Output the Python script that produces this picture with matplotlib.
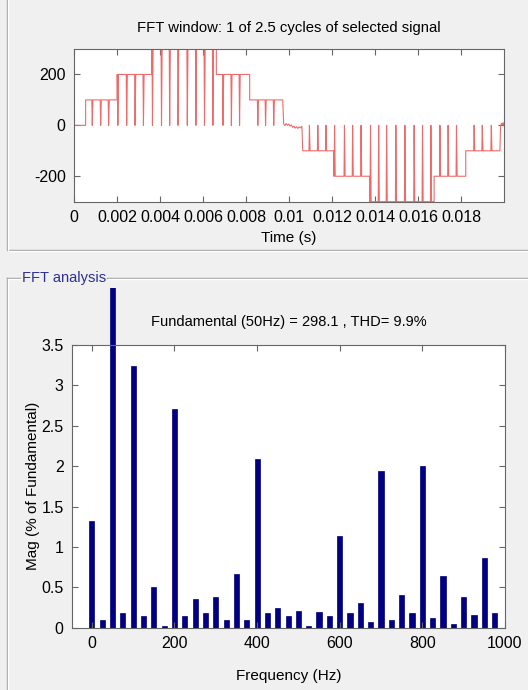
import matplotlib.pyplot as plt
from matplotlib.lines import Line2D
from matplotlib.transforms import Bbox, TransformedBbox

plt.rcParams['font.family'] = ['Liberation Sans', 'DejaVu Sans']
plt.rcParams['font.size'] = 10.5
plt.rcParams['axes.unicode_minus'] = False

# --- time signal: plateaus of the multilevel output, with the zero dips read per plateau
plateau_level = [0, 100, 200, 300, 200, 100, -100, -200, -300, -200, -100]
plateau_start = [0.0, 0.00054, 0.00200, 0.00361, 0.00662, 0.00817,
                 0.01064, 0.01208, 0.01375, 0.01675, 0.01822]
plateau_end = [0.00054, 0.00200, 0.00361, 0.00662, 0.00817, 0.00971,
               0.01208, 0.01375, 0.01675, 0.01822, 0.01981]
plateau_dips = [
    [],
    [0.00085, 0.00124, 0.00161],
    [0.00204, 0.00245, 0.00284, 0.00323],
    [0.00365, 0.00407, 0.00445, 0.00484, 0.00527, 0.00567, 0.00607, 0.00646],
    [0.00693, 0.00732, 0.00770],
    [0.00855, 0.00891, 0.00929],
    [0.01095, 0.01134, 0.01172],
    [0.01212, 0.01258, 0.01296, 0.01335],
    [0.01379, 0.01417, 0.01454, 0.01497, 0.01539, 0.01582, 0.01621, 0.01660],
    [0.01702, 0.01740, 0.01779],
    [0.01861, 0.01899, 0.01941],
]
# small ripple around zero between the half cycles and at the end
ripple1_t = [0.00975, 0.00981, 0.00987, 0.00993, 0.00999, 0.01005, 0.01011,
             0.01017, 0.01023, 0.01029, 0.01035, 0.01041, 0.01047, 0.01053, 0.01060]
ripple1_v = [6, -1, 7, 0, 5, -3, 2, -8, -3, -11, -5, -12, -6, -10, -4]
ripple2_t = [0.01984, 0.01988, 0.01992, 0.01995, 0.01998, 0.02]
ripple2_v = [-4, 8, 0, 10, 3, 9]

# --- spectrum (% of fundamental), 25 Hz resolution
freq = [0, 25, 50, 75, 100, 125, 150, 175, 200, 225, 250, 275, 300, 325, 350,
        375, 400, 425, 450, 475, 500, 525, 550, 575, 600, 625, 650, 675, 700,
        725, 750, 775, 800, 825, 850, 875, 900, 925, 950, 975]
mag = [1.32, 0.09, 100.0, 0.18, 3.24, 0.14, 0.50, 0.02, 2.71, 0.14, 0.36, 0.18,
       0.375, 0.09, 0.665, 0.09, 2.09, 0.18, 0.24, 0.14, 0.21, 0.02, 0.19, 0.14,
       1.13, 0.18, 0.30, 0.075, 1.94, 0.10, 0.40, 0.18, 2.00, 0.12, 0.64, 0.04,
       0.375, 0.16, 0.86, 0.18]

time_ticks = [0, 0.002, 0.004, 0.006, 0.008, 0.01, 0.012, 0.014, 0.016, 0.018]
time_labels = ['0', '0.002', '0.004', '0.006', '0.008', '0.01', '0.012',
               '0.014', '0.016', '0.018']
sig_ticks = [-200, 0, 200]
mag_ticks = [0, 0.5, 1, 1.5, 2, 2.5, 3, 3.5]
mag_labels = ['0', '0.5', '1', '1.5', '2', '2.5', '3', '3.5']
freq_ticks = [0, 200, 400, 600, 800, 1000]

W, H = 528, 690
fig = plt.figure(figsize=(W / 100, H / 100), dpi=100)
fig.patch.set_facecolor('#f0f0f0')


def fx(px):
    return px / W


def fy(py):
    return 1 - py / H


# etched panel borders
def etched(xs, ys):
    for dx, col in ((0, '#a0a0a0'), (1, '#ffffff')):
        fig.add_artist(Line2D([fx(x + dx) for x in xs], [fy(y + dx) for y in ys],
                              color=col, lw=1.0, transform=fig.transFigure))


etched([7, 7, 528], [-5, 250, 250])
etched([7, 7], [278, 695])
etched([7, 20], [278, 278])
etched([107, 528], [278, 278])
fig.text(fx(22), fy(278), 'FFT analysis', color='#2d2d9a', fontsize=10.5,
         va='center', ha='left')


def style(ax):
    ax.set_facecolor('white')
    for s in ax.spines.values():
        s.set_color('#666666')
        s.set_linewidth(0.8)
    ax.tick_params(direction='in', length=4, width=0.8, color='#666666',
                   top=True, right=True, labelsize=11.5, pad=6)


# --- top: signal window
ax1 = fig.add_axes([fx(74), fy(201.7), fx(504 - 74), (201.7 - 49) / H])
ts, vs = [], []
for lvl, t0, t1, dips in zip(plateau_level, plateau_start, plateau_end, plateau_dips):
    ts.append(t0)
    vs.append(lvl)
    for d in dips:
        ts += [d - 0.00002, d, d + 0.00003]
        vs += [lvl, 0, lvl]
    ts.append(t1)
    vs.append(lvl)
    if t1 == plateau_end[5]:
        ts += ripple1_t
        vs += ripple1_v
ts += ripple2_t
vs += ripple2_v
ax1.plot(ts, vs, color='#f06a6a', lw=0.8)
ax1.set_xlim(0, 0.02)
ax1.set_ylim(-300, 300)
ax1.set_xticks(time_ticks)
ax1.set_xticklabels(time_labels)
ax1.set_yticks(sig_ticks)
style(ax1)
ax1.set_title('FFT window: 1 of 2.5 cycles of selected signal', fontsize=10.7, pad=12)
ax1.set_xlabel('Time (s)', fontsize=11, labelpad=4)

# --- bottom: harmonic spectrum
ax2 = fig.add_axes([fx(72), fy(627.7), fx(505 - 72), (627.7 - 345) / H])
bars = ax2.bar(freq, mag, width=12.5, color='#000080', edgecolor='#000080', lw=0.5)
# the fundamental runs off the top of the axes, up to the panel border
clip = TransformedBbox(Bbox([[0, 0], [1, fy(288)]]), fig.transFigure)
for b in bars:
    b.set_clip_box(clip)
ax2.set_xlim(-48, 1000)
ax2.set_ylim(0, 3.5)
ax2.set_xticks(freq_ticks)
ax2.set_yticks(mag_ticks)
ax2.set_yticklabels(mag_labels)
style(ax2)
ax2.set_title('Fundamental (50Hz) = 298.1 , THD= 9.9%', fontsize=10.5, pad=14)
ax2.set_xlabel('Frequency (Hz)', fontsize=11, labelpad=13)
ax2.set_ylabel('Mag (% of Fundamental)', fontsize=11, labelpad=1)

fig.savefig('out.png', dpi=100, facecolor=fig.get_facecolor())
